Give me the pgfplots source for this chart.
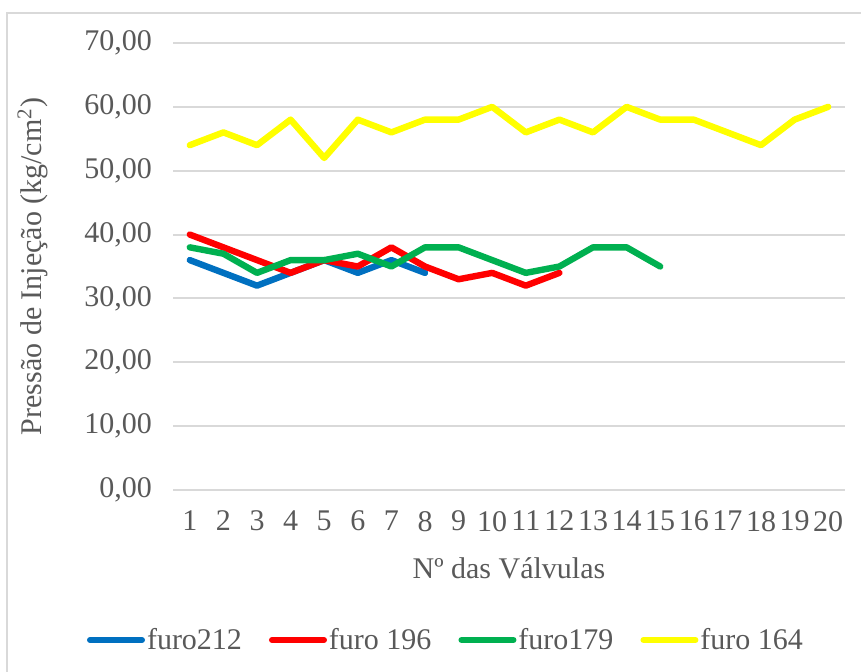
\documentclass[border=0pt]{standalone}
\usepackage{pgfplots}
\pgfplotsset{compat=1.18}
\usepackage{fontspec}
\setmainfont{Liberation Serif}
\definecolor{txt}{HTML}{595959}
\definecolor{gridc}{HTML}{D9D9D9}
\definecolor{cblue}{HTML}{0070C0}
\definecolor{cred}{HTML}{FF0000}
\definecolor{cgreen}{HTML}{00B050}
\definecolor{cyellow}{HTML}{FFFF00}
\begin{document}
\begin{tikzpicture}
\useasboundingbox (0pt,0pt) rectangle (430.5pt,336pt);
\draw[gridc, line width=1pt] (3.5pt,0pt) -- (3.5pt,329.5pt) -- (430.5pt,329.5pt);
\begin{axis}[
  at={(86.5pt,91pt)}, anchor=south west,
  scale only axis, width=336pt, height=223.5pt,
  xmin=0.5, xmax=20.5, ymin=0, ymax=70,
  xtick={1,...,20}, ytick={0,10,...,70},
  axis line style={draw=none},
  major tick length=0pt,
  ymajorgrids, xmajorgrids=false, grid style={gridc, line width=1pt},
  font=\fontsize{15}{18}\selectfont,
  tick label style={text=txt, font=\fontsize{15}{18}\selectfont},
  /pgf/number format/assume math mode=true,
  yticklabel style={/pgf/number format/.cd, fixed, fixed zerofill, precision=2, use comma},
  yticklabel shift=7pt,
  xticklabel shift=7pt,
  xlabel={N\textordmasculine{} das Válvulas},
  xlabel style={at={(axis description cs:0.5,0)}, anchor=center, yshift=-39pt, text=txt},
  ylabel={Pressão de Injeção (kg/cm\textsuperscript{2})},
  ylabel style={at={(axis description cs:0,0.5)}, anchor=center, yshift=70pt, text=txt},
  legend style={draw=none, fill=none, at={(axis description cs:0.4077,-0.3356)}, anchor=center,
    font=\fontsize{15}{18}\selectfont, text=txt, legend columns=4,
    /tikz/every even column/.append style={column sep=11.5pt},
    /tikz/every odd column/.append style={column sep=-1pt},
    legend cell align=left},
  legend image code/.code={\draw[#1, line width=3pt, line cap=round] (0pt,0pt) -- (26pt,0pt);},
  every axis plot/.append style={line width=3.2pt, line join=round, line cap=round, mark=none},
]
\addplot[cblue] coordinates {(1,36)(2,34)(3,32)(4,34)(5,36)(6,34)(7,36)(8,34)};
\addlegendentry{furo212}
\addplot[cred] coordinates {(1,40)(2,38)(3,36)(4,34)(5,36)(6,35)(7,38)(8,35)(9,33)(10,34)(11,32)(12,34)};
\addlegendentry{furo 196}
\addplot[cgreen] coordinates {(1,38)(2,37)(3,34)(4,36)(5,36)(6,37)(7,35)(8,38)(9,38)(10,36)(11,34)(12,35)(13,38)(14,38)(15,35)};
\addlegendentry{furo179}
\addplot[cyellow] coordinates {(1,54)(2,56)(3,54)(4,58)(5,52)(6,58)(7,56)(8,58)(9,58)(10,60)(11,56)(12,58)(13,56)(14,60)(15,58)(16,58)(17,56)(18,54)(19,58)(20,60)};
\addlegendentry{furo 164}
\end{axis}
\end{tikzpicture}
\end{document}
